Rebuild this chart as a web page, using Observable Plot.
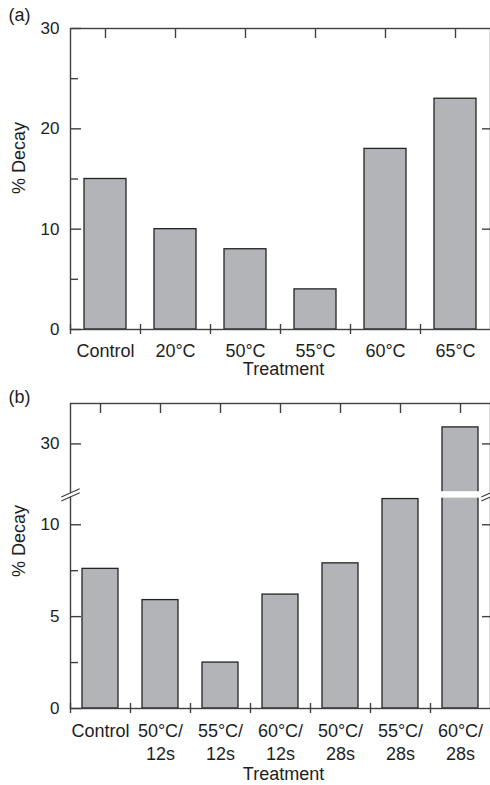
<!DOCTYPE html>
<html><head><meta charset="utf-8">
<script src="https://cdn.jsdelivr.net/npm/d3@7"></script>
<script src="https://cdn.jsdelivr.net/npm/@observablehq/plot@0.6"></script>
<style>
html,body{margin:0;padding:0;background:#fff}
#chart svg{display:block}
</style>
</head><body><div id="chart"></div>
<script>
// ---- data ----
const treatmentsA = ["Control", "20°C", "50°C", "55°C", "60°C", "65°C"];
const decayA = [15, 10, 8, 4, 18, 23];
const majorTicksA = [0, 10, 20, 30];
const minorTicksA = [5, 15, 25];
const rightTicksA = [10, 20];

const treatmentsB = ["Control", "50°C/\n12s", "55°C/\n12s", "60°C/\n12s", "50°C/\n28s", "55°C/\n28s", "60°C/\n28s"];
const decayB = [7.6, 5.9, 2.5, 6.2, 7.9, 11.4, 30.9];
const majorTicksB = [0, 5, 10, 30];
const minorTicksB = [2.5, 7.5];
const rightTicksB = [5, 10, 30];
const axisBreakB = [11.6, 27.2];   // value range hidden by the axis break
const barGapB = [11.45, 27.4];     // white cut through the broken bar
const yMaxB = 32.2;

const panelLabels = ["(a)", "(b)"];
const xTitle = "Treatment";
const yTitle = "% Decay";

// ---- style ----
const W = 490;
const axisColor = "#404040";
const textColor = "#1e1e1e";
const barFill = "#b3b4b7";
const barStroke = "#242424";
const font = "'Liberation Sans', Arial, Helvetica, sans-serif";
const lineShape = {draw(context, l) { context.moveTo(0, 0); context.lineTo(0, -l); }};

function commonMarks(ticksMajor, ticksMinor, ticksRight, step, opts) {
  return [
    Plot.frame({stroke: axisColor, strokeWidth: 1.4}),
    Plot.axisY(ticksMajor, {anchor: "right", frameAnchor: "left", tickSize: 10, fill: "none", label: null, stroke: axisColor, strokeWidth: 1.4}),
    Plot.axisY(ticksMinor, {anchor: "right", frameAnchor: "left", tickSize: 7, fill: "none", label: null, stroke: axisColor, strokeWidth: 1.4}),
    Plot.axisY(ticksRight, {anchor: "left", frameAnchor: "right", tickSize: 8, fill: "none", label: null, stroke: axisColor, strokeWidth: 1.4}),
    Plot.axisY(ticksMajor, {anchor: "left", tickSize: 0, tickPadding: 11, fontSize: 17, fill: textColor, label: null}),
    Plot.axisX({anchor: "bottom", frameAnchor: "top", tickSize: 10, fill: "none", label: null, stroke: axisColor, strokeWidth: 1.4}),
    Plot.axisX({anchor: "bottom", tickSize: 10, dy: -5, dx: -step / 2, fill: "none", label: null, stroke: axisColor, strokeWidth: 1.4}),
    Plot.axisX({anchor: "bottom", tickSize: 0, tickPadding: opts.xPad, fontSize: 18, lineHeight: 1.26, fill: textColor, label: null}),
    Plot.text([yTitle], {frameAnchor: "left", rotate: -90, dx: -51, dy: opts.yTitleDy, fontSize: 18, fill: textColor}),
    Plot.text([xTitle], {frameAnchor: "bottom", lineAnchor: "top", dx: 3, dy: opts.xTitleDy, fontSize: 18, fill: textColor}),
    Plot.text([opts.panel], {frameAnchor: "top-left", textAnchor: "start", lineAnchor: "top", dx: -62, dy: opts.panelDy, fontSize: 18, fill: textColor})
  ];
}

// ---- panel (a) ----
const dataA = treatmentsA.map((t, i) => ({t, v: decayA[i]}));
const stepA = (W - 70) / treatmentsA.length;
const plotA = Plot.plot({
  width: W, height: 385,
  marginLeft: 70, marginRight: 0, marginTop: 28, marginBottom: 56,
  style: {fontFamily: font, fontSize: "17px", background: "white", overflow: "visible"},
  x: {domain: treatmentsA, paddingInner: 0.4, paddingOuter: 0.2},
  y: {domain: [0, 30]},
  marks: [
    Plot.barY(dataA, {x: "t", y: "v", fill: barFill, stroke: barStroke, strokeWidth: 1.3}),
    ...commonMarks(majorTicksA, minorTicksA, rightTicksA, stepA, {xPad: 11, yTitleDy: 15, xTitleDy: 33, panel: panelLabels[0], panelDy: -20})
  ]
});

// ---- panel (b): broken y axis via a scale transform ----
const dataB = treatmentsB.map((t, i) => ({t, v: decayB[i]}));
const stepB = (W - 70) / treatmentsB.length;
const lastB = treatmentsB[treatmentsB.length - 1];
const gapSize = axisBreakB[1] - axisBreakB[0];
const brk = v => (v >= axisBreakB[1] ? v - gapSize : v > axisBreakB[0] ? axisBreakB[0] : v);
const plotB = Plot.plot({
  width: W, height: 400,
  marginLeft: 70, marginRight: 0, marginTop: 18, marginBottom: 77,
  style: {fontFamily: font, fontSize: "17px", background: "white", overflow: "visible"},
  x: {domain: treatmentsB, paddingInner: 0.4, paddingOuter: 0.2},
  y: {domain: [0, yMaxB - gapSize], transform: brk},
  marks: [
    Plot.barY(dataB, {x: "t", y: "v", fill: barFill, stroke: barStroke, strokeWidth: 1.3}),
    Plot.barY([{t: lastB, y1: barGapB[0], y2: barGapB[1]}], {x: "t", y1: "y1", y2: "y2", fill: "white", insetLeft: -2, insetRight: -2}),
    ...commonMarks(majorTicksB, minorTicksB, rightTicksB, stepB, {xPad: 12.5, yTitleDy: 21, xTitleDy: 59, panel: panelLabels[1], panelDy: -13}),
    ...["left", "right"].flatMap(fa => [
      Plot.vector([axisBreakB[0]], {y: d => d, frameAnchor: fa, length: 14, rotate: 66, anchor: "middle", shape: lineShape, stroke: "white", strokeWidth: 3.5, dy: -0.5}),
      Plot.vector([axisBreakB[0]], {y: d => d, frameAnchor: fa, length: 19, rotate: 66, anchor: "middle", shape: lineShape, stroke: axisColor, strokeWidth: 1.3, dy: -2.5}),
      Plot.vector([axisBreakB[0]], {y: d => d, frameAnchor: fa, length: 19, rotate: 66, anchor: "middle", shape: lineShape, stroke: axisColor, strokeWidth: 1.3, dy: 1.5})
    ])
  ]
});

const chart = document.getElementById("chart");
chart.appendChild(plotA);
chart.appendChild(plotB);
</script>
</body></html>
